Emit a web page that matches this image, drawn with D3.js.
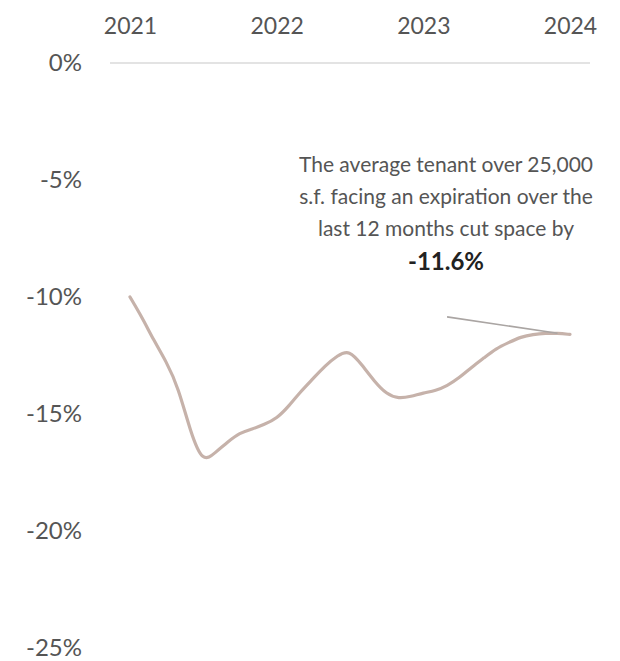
<!DOCTYPE html>
<html>
<head>
<meta charset="utf-8">
<script src="https://cdn.jsdelivr.net/npm/d3@7"></script>
<style>
  html, body { margin: 0; padding: 0; background: #fff; }
  svg { display: block; font-family: Lato, "Open Sans", sans-serif; }
</style>
</head>
<body>
<svg id="chart" width="620" height="661"></svg>
<script>
// Average change in space taken by tenants over 25,000 s.f. with an expiring lease
// (trailing 12 months), monthly from January 2021 to January 2024.
const startMonth = "2021-01";
const spaceChange = [
  -10.0, -10.9, -11.85, -12.75, -13.85, -15.8, -17.1, -16.65, -16.2, -15.8,
  -15.65, -15.45, -15.2, -14.65, -14.05, -13.5, -12.95, -12.5, -12.25, -12.9,
  -13.6, -14.15, -14.35, -14.25, -14.1, -14.0, -13.8, -13.45, -13.0, -12.6,
  -12.2, -11.95, -11.7, -11.6, -11.55, -11.55, -11.6
];
const yearTicks = ["2021", "2022", "2023", "2024"];
const yTicks = [0, -5, -10, -15, -20, -25];
const noteLines = [
  "The average tenant over 25,000",
  "s.f. facing an expiration over the",
  "last 12 months cut space by"
];
const noteValue = -11.6;

const parseMonth = d3.timeParse("%Y-%m");
const parseYear = d3.timeParse("%Y");
const t0 = parseMonth(startMonth);
const series = spaceChange.map((v, i) => ({ date: d3.timeMonth.offset(t0, i), value: v }));

const svg = d3.select("#chart");

const x = d3.scaleTime()
  .domain([parseYear("2021"), parseYear("2024")])
  .range([130, 570]);
const y = d3.scaleLinear()
  .domain([0, -25])
  .range([63, 648]);

// Zero baseline
svg.append("line")
  .attr("x1", 110).attr("x2", 590)
  .attr("y1", y(0)).attr("y2", y(0))
  .attr("stroke", "#e3e3e3")
  .attr("stroke-width", 2);

// Year labels along the top
const xAxis = d3.axisTop(x)
  .tickValues(yearTicks.map(parseYear))
  .tickFormat(d3.timeFormat("%Y"))
  .tickSize(0)
  .tickPadding(0);
const gx = svg.append("g").attr("transform", "translate(0,34)").call(xAxis);
gx.select(".domain").remove();
gx.selectAll("text")
  .attr("font-family", "Lato, sans-serif")
  .attr("font-size", 23)
  .attr("fill", "#555");

// Percentage labels on the left
const yAxis = d3.axisLeft(y)
  .tickValues(yTicks)
  .tickFormat(d => d + "%")
  .tickSize(0)
  .tickPadding(0);
const gy = svg.append("g").attr("transform", "translate(82,0)").call(yAxis);
gy.select(".domain").remove();
gy.selectAll("text")
  .attr("font-family", "Lato, sans-serif")
  .attr("font-size", 24)
  .attr("fill", "#555");

// Trend line
const line = d3.line()
  .x(d => x(d.date))
  .y(d => y(d.value))
  .curve(d3.curveBasis);

svg.append("path")
  .datum(series)
  .attr("d", line)
  .attr("fill", "none")
  .attr("stroke", "#c6b2aa")
  .attr("stroke-width", 3.2)
  .attr("stroke-linecap", "round")
  .attr("stroke-linejoin", "round");

// Annotation
const last = series[series.length - 1];
const noteX = 446;
const note = svg.append("g").attr("text-anchor", "middle");
noteLines.forEach((t, i) => {
  note.append("text")
    .attr("x", noteX)
    .attr("y", 172 + i * 32)
    .attr("font-family", "Lato, sans-serif")
    .attr("font-size", 21)
    .attr("fill", "#555")
    .text(t);
});
note.append("text")
  .attr("x", noteX)
  .attr("y", 172 + 3 * 32 + 2)
  .attr("font-family", "Lato, sans-serif")
  .attr("font-size", 24)
  .attr("font-weight", 700)
  .attr("fill", "#222")
  .text(noteValue.toFixed(1) + "%");

// Connector from the note toward the latest reading
const connStart = { date: parseMonth("2023-03"), value: -10.85 };
const connEnd = { date: d3.timeMonth.offset(last.date, -1), value: last.value + 0.05 };
svg.append("line")
  .attr("x1", x(connStart.date)).attr("y1", y(connStart.value))
  .attr("x2", x(connEnd.date)).attr("y2", y(connEnd.value))
  .attr("stroke", "#aaa5a3")
  .attr("stroke-width", 1.6);
</script>
</body>
</html>
